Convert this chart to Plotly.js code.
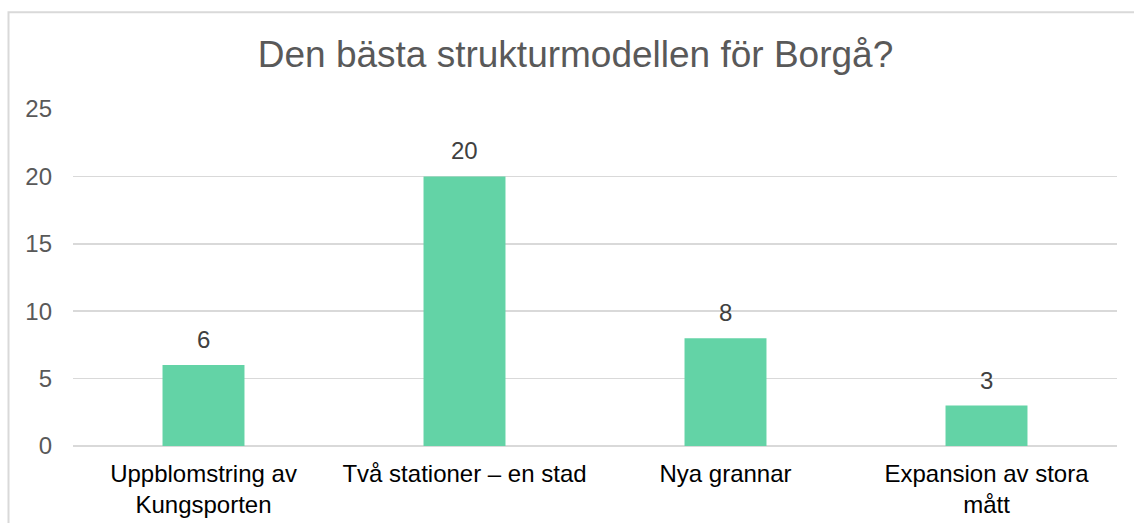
<!DOCTYPE html>
<html>
<head>
<meta charset="utf-8">
<script src="https://cdn.plot.ly/plotly-3.0.1.min.js"></script>
<style>
html,body{margin:0;padding:0;background:#fff;}
#chart{width:1134px;height:523px;}
</style>
</head>
<body>
<div id="chart"></div>
<script>
const categories = ["Uppblomstring av<br>Kungsporten", "Två stationer – en stad", "Nya grannar", "Expansion av stora<br>mått"];
const values = [6, 20, 8, 3];
const yTicks = [0, 5, 10, 15, 20, 25];
const chartTitle = "Den bästa strukturmodellen för Borgå?";

const FONT = "Liberation Sans, Arial, sans-serif";

const trace = {
  type: "bar",
  x: categories,
  y: values,
  marker: {color: "#63d3a6", line: {width: 0}},
  hoverinfo: "none"
};

const annotations = categories.map((c, i) => ({
  x: c, y: values[i], xref: "x", yref: "y",
  text: String(values[i]),
  showarrow: false,
  yanchor: "bottom",
  yshift: 10,
  font: {family: FONT, size: 24, color: "#404040"}
}));

const L = 73, R = 17, T = 108.5, B = 77;
const plotW = 1134 - L - R, plotH = 523 - T - B;
function px2paperX(px){ return (px - L) / plotW; }
function px2paperY(py){ return (523 - B - py) / plotH; }

const layout = {
  width: 1134, height: 523,
  margin: {l: L, r: R, t: T, b: B, pad: 0},
  paper_bgcolor: "#ffffff",
  plot_bgcolor: "#ffffff",
  showlegend: false,
  bargap: 0.686,
  title: {
    text: chartTitle,
    font: {family: FONT, size: 37, color: "#595959"},
    x: 575.5 / 1134, xref: "container", xanchor: "center",
    y: 1 - 54 / 523, yref: "container", yanchor: "middle"
  },
  xaxis: {
    type: "category",
    showgrid: false, zeroline: false, showline: false,
    ticks: "", ticklabelstandoff: 11,
    tickfont: {family: FONT, size: 24, color: "#000000"},
    fixedrange: true
  },
  yaxis: {
    range: [0, 25],
    tickvals: yTicks,
    ticktext: yTicks.map(String),
    showgrid: true, gridcolor: "#d9d9d9", gridwidth: 1.5,
    zeroline: true, zerolinecolor: "#d9d9d9", zerolinewidth: 1.5,
    showline: false, ticks: "",
    ticklabelstandoff: 20,
    tickfont: {family: FONT, size: 24, color: "#595959"},
    fixedrange: true
  },
  annotations: annotations,
  shapes: [{
    type: "rect", xref: "paper", yref: "paper",
    x0: px2paperX(8.5), x1: px2paperX(1160),
    y0: px2paperY(540), y1: px2paperY(11.5),
    line: {color: "#d9d9d9", width: 2},
    fillcolor: "rgba(0,0,0,0)",
    layer: "below"
  }]
};

Plotly.newPlot("chart", [trace], layout, {displayModeBar: false, staticPlot: true});
</script>
</body>
</html>
